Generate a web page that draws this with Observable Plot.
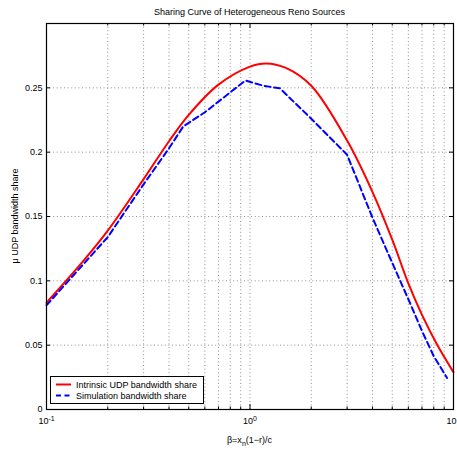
<!DOCTYPE html>
<html><head><meta charset="utf-8">
<script src="https://cdn.jsdelivr.net/npm/d3@7"></script>
<script src="https://cdn.jsdelivr.net/npm/@observablehq/plot@0.6"></script>
<style>
body{margin:0;background:#fff}
#chart svg{font-family:"Liberation Sans",Arial,Helvetica,sans-serif}
</style>
</head><body><div id="chart"></div>
<script>
// Intrinsic UDP bandwidth share (red solid)
const intrinsicBeta  = [0.1, 0.15, 0.2, 0.3, 0.4, 0.5, 0.7, 1.0, 1.2, 1.5, 2.0, 3.0, 4.0, 5, 6, 7, 8.3, 10];
const intrinsicShare = [0.083, 0.1145, 0.139, 0.179, 0.2085, 0.229, 0.2525, 0.2665, 0.269, 0.2655, 0.2516, 0.209, 0.169, 0.132, 0.098, 0.0735, 0.0505, 0.029];
// Simulation bandwidth share (blue dashed)
const simBeta  = [0.1, 0.15, 0.2, 0.3, 0.4, 0.47, 0.6, 0.8, 0.95, 1.17, 1.4, 2.0, 3.0, 4.0, 5, 6, 7, 8, 9.3];
const simShare = [0.081, 0.112, 0.134, 0.175, 0.203, 0.220, 0.231, 0.2465, 0.2557, 0.2515, 0.2497, 0.226, 0.198, 0.149, 0.114, 0.0857, 0.061, 0.0414, 0.0245];

const yTicks = [0, 0.05, 0.1, 0.15, 0.2, 0.25];
const yTickLabels = ["0", "0.05", "0.1", "0.15", "0.2", "0.25"];
const xMajor = [0.1, 1, 10];
const xMajorExp = ["-1", "0", "1"];
const xMinor = [0.2, 0.3, 0.4, 0.5, 0.6, 0.7, 0.8, 0.9, 2, 3, 4, 5, 6, 7, 8, 9];
const seriesNames = ["Intrinsic UDP bandwidth share", "Simulation bandwidth share"];
const titleText = "Sharing Curve of Heterogeneous Reno Sources";
const yLabelText = "\u03bc UDP bandwidth share";

const intrinsic = intrinsicBeta.map((b, i) => ({beta: b, share: intrinsicShare[i]}));
const sim = simBeta.map((b, i) => ({beta: b, share: simShare[i]}));

const W = 457, H = 450, mL = 46, mR = 4, mT = 23, mB = 41;
const fw = W - mL - mR, fh = H - mT - mB;
const grid = {stroke: "#444", strokeOpacity: 0.75, strokeDasharray: "1,2.6", strokeWidth: 0.8};

const plot = Plot.plot({
  width: W, height: H,
  marginLeft: mL, marginRight: mR, marginTop: mT, marginBottom: mB,
  style: {fontFamily: "'Liberation Sans', Arial, sans-serif", fontSize: "9px", background: "#fff", overflow: "visible"},
  x: {type: "log", domain: [0.1, 10], label: null},
  y: {domain: [0, 0.3], label: null},
  marks: [
    Plot.ruleX([...xMinor, 1], {x: d => d, ...grid}),
    Plot.ruleY(yTicks.filter(d => d > 0), {y: d => d, ...grid}),
    Plot.line(intrinsic, {x: "beta", y: "share", stroke: "#ff0000", strokeWidth: 2, curve: "catmull-rom"}),
    Plot.line(sim, {x: "beta", y: "share", stroke: "#0000ff", strokeWidth: 2, strokeDasharray: "6,3.5"}),
    // inward ticks
    Plot.ruleX(xMajor, {x: d => d, insetTop: fh - 5, stroke: "#000"}),
    Plot.ruleX(xMajor, {x: d => d, insetBottom: fh - 5, stroke: "#000"}),
    Plot.ruleX(xMinor, {x: d => d, insetTop: fh - 2.5, stroke: "#000"}),
    Plot.ruleX(xMinor, {x: d => d, insetBottom: fh - 2.5, stroke: "#000"}),
    Plot.ruleY(yTicks, {y: d => d, insetRight: fw - 4, stroke: "#000"}),
    Plot.ruleY(yTicks, {y: d => d, insetLeft: fw - 4, stroke: "#000"}),
    Plot.frame({stroke: "#000", strokeWidth: 1.2}),
    Plot.axisY(yTicks, {tickSize: 0, tickPadding: 4, fontSize: 9, fill: "#000", label: null, tickFormat: d => yTickLabels[yTicks.indexOf(d)]}),
    Plot.axisX(xMajor, {tickSize: 0, tickPadding: 8, fontSize: 9, fill: "#000", label: null, tickFormat: d => "10"})
  ]
});
document.getElementById("chart").appendChild(plot);

const svg = d3.select(plot);
// superscript exponents on x tick labels
svg.selectAll('g[aria-label="x-axis tick label"] text').each(function(d, i) {
  const t = d3.select(this);
  t.text("");
  t.append("tspan").text("10");
  t.append("tspan").attr("dy", "-0.45em").attr("font-size", "7px").text(xMajorExp[i]);
});

// title
svg.append("text").attr("x", mL + fw / 2).attr("y", 15).attr("text-anchor", "middle")
  .attr("font-size", "9px").attr("fill", "#000").text(titleText);
// x label
const xl = svg.append("text").attr("x", mL + fw / 2).attr("y", 443).attr("text-anchor", "middle")
  .attr("font-size", "9px").attr("fill", "#000");
xl.append("tspan").text("\u03b2=x");
xl.append("tspan").attr("dy", "2.5").attr("font-size", "7px").text("n");
xl.append("tspan").attr("dy", "-2.5").text("(1\u2212r)/c");
// y label
svg.append("text").attr("transform", `translate(18,${mT + fh / 2}) rotate(-90)`).attr("text-anchor", "middle")
  .attr("font-size", "9px").attr("fill", "#000").text(yLabelText);

// legend
const lg = svg.append("g");
lg.append("rect").attr("x", 50.5).attr("y", 376.5).attr("width", 153).attr("height", 27)
  .attr("fill", "#fff").attr("stroke", "#000").attr("stroke-width", 1);
const legendStyles = [{stroke: "#ff0000", dash: null}, {stroke: "#0000ff", dash: "5,3.5"}];
seriesNames.forEach((name, i) => {
  const y = 384.5 + i * 11;
  lg.append("line").attr("x1", 56).attr("x2", 71).attr("y1", y).attr("y2", y)
    .attr("stroke", legendStyles[i].stroke).attr("stroke-width", 2)
    .attr("stroke-dasharray", legendStyles[i].dash);
  lg.append("text").attr("x", 76).attr("y", y + 3.2).attr("text-anchor", "start")
    .attr("font-size", "9px").attr("fill", "#000").text(name);
});
</script>
</body></html>
